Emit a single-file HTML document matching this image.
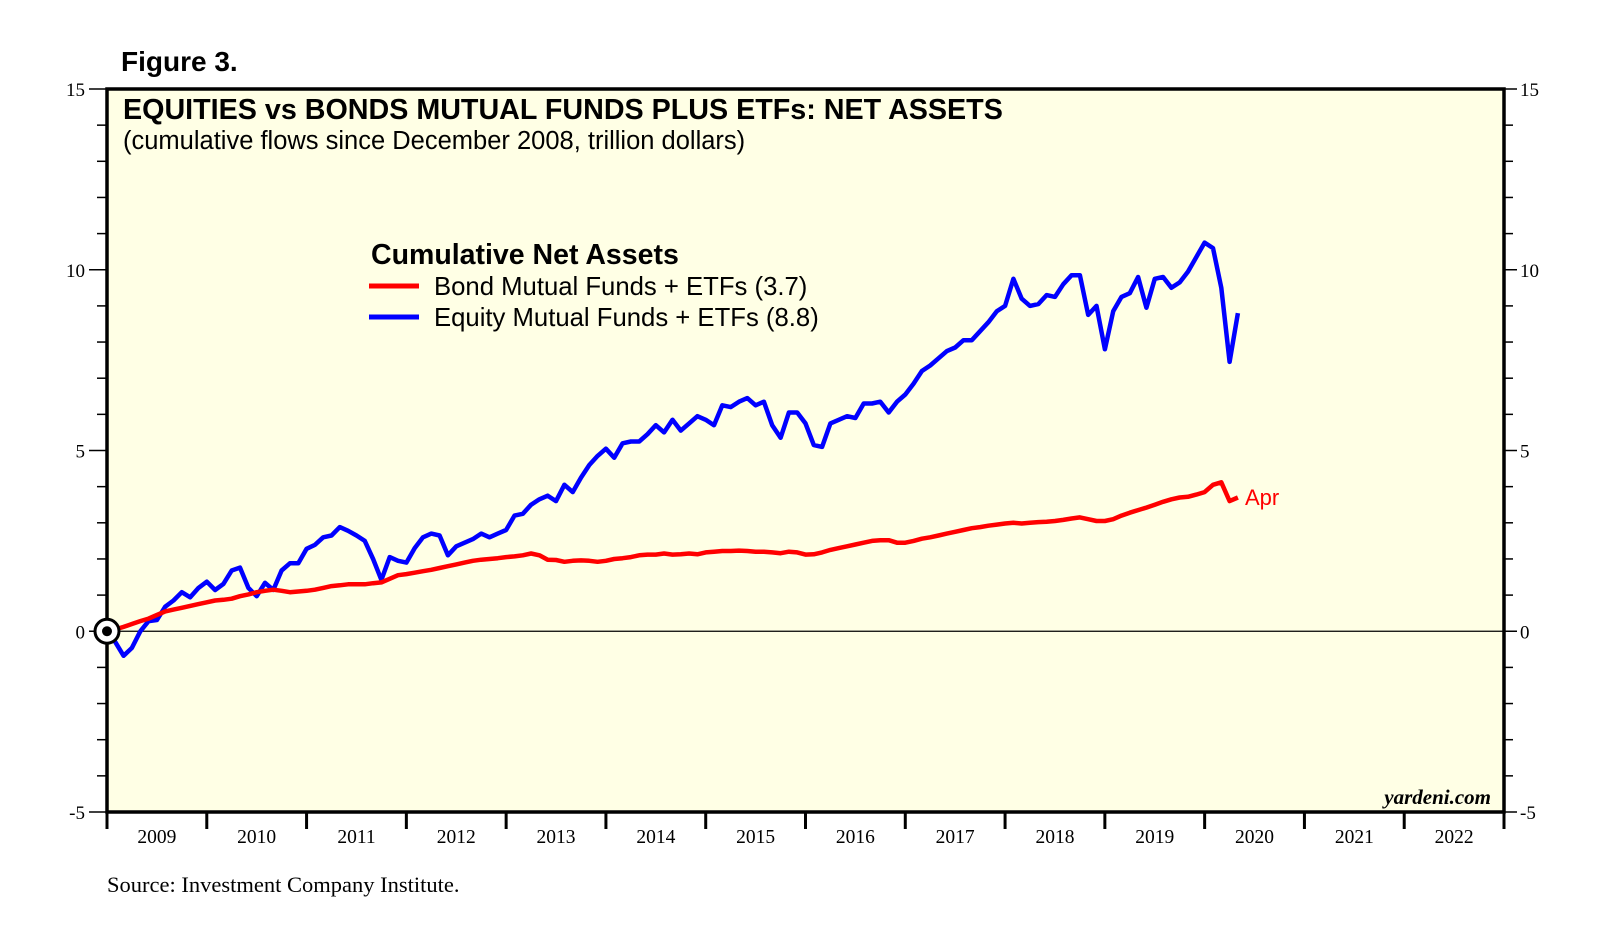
<!DOCTYPE html>
<html><head><meta charset="utf-8"><style>
html,body{margin:0;padding:0;background:#fff;}
svg{display:block;}
.s{font-family:"Liberation Sans",sans-serif;}
.r{font-family:"Liberation Serif",serif;}
</style></head><body>
<svg id="chart" width="1610" height="946" viewBox="0 0 1610 946" xmlns="http://www.w3.org/2000/svg">
<text x="121" y="71" class="s" font-size="28" font-weight="bold">Figure 3.</text>
<rect x="107" y="89" width="1397" height="723" fill="#ffffe5" stroke="#000" stroke-width="3.5"/>
<g id="axes"></g>
<g id="series"></g>
<text x="123" y="119" class="s" font-size="28.7" font-weight="bold">EQUITIES vs BONDS MUTUAL FUNDS PLUS ETFs: NET ASSETS</text>
<text x="123" y="149" class="s" font-size="25.5">(cumulative flows since December 2008, trillion dollars)</text>
<text x="371" y="264" class="s" font-size="28.5" font-weight="bold">Cumulative Net Assets</text>
<line x1="369" y1="286" x2="419" y2="286" stroke="#ff0000" stroke-width="5"/>
<text x="434" y="295" class="s" font-size="25.7">Bond Mutual Funds + ETFs (3.7)</text>
<line x1="369" y1="317" x2="419" y2="317" stroke="#0000ff" stroke-width="5"/>
<text x="434" y="326" class="s" font-size="25.7">Equity Mutual Funds + ETFs (8.8)</text>
<text x="1245" y="505" class="s" font-size="22" fill="#ff0000">Apr</text>
<text x="1491" y="804" class="r" font-size="21" font-weight="bold" font-style="italic" text-anchor="end">yardeni.com</text>
<text x="107" y="892" class="r" font-size="22.5">Source: Investment Company Institute.</text>
</svg>
<script>
const years = ["2009","2010","2011","2012","2013","2014","2015","2016","2017","2018","2019","2020","2021","2022"];
const yTicks = [15,10,5,0,-5];
const equity = [0,
-0.3,-0.68,-0.46,0.0,0.28,0.31,0.68,0.85,1.08,0.94,1.2,1.37,
1.14,1.31,1.68,1.76,1.2,0.97,1.34,1.14,1.68,1.88,1.88,2.28,
2.39,2.6,2.65,2.88,2.78,2.65,2.5,2.0,1.42,2.05,1.95,1.9,
2.3,2.6,2.7,2.65,2.1,2.35,2.45,2.55,2.7,2.6,2.7,2.8,
3.2,3.25,3.5,3.65,3.75,3.6,4.05,3.85,4.25,4.6,4.85,5.05,
4.8,5.2,5.25,5.25,5.45,5.7,5.5,5.85,5.55,5.75,5.95,5.85,
5.7,6.25,6.2,6.35,6.45,6.25,6.35,5.7,5.35,6.05,6.05,5.75,
5.15,5.1,5.75,5.85,5.95,5.9,6.3,6.3,6.35,6.05,6.35,6.55,
6.85,7.2,7.35,7.55,7.75,7.85,8.05,8.05,8.3,8.55,8.85,9.0,
9.75,9.2,9.0,9.05,9.3,9.25,9.6,9.85,9.85,8.75,9.0,7.8,
8.85,9.25,9.35,9.8,8.95,9.75,9.8,9.5,9.65,9.95,10.35,10.75,
10.6,9.5,7.45,8.8];
const bond = [0,
0.05,0.12,0.2,0.28,0.35,0.45,0.55,0.6,0.65,0.7,0.75,0.8,
0.85,0.87,0.9,0.97,1.02,1.08,1.12,1.15,1.12,1.08,1.1,1.12,
1.15,1.2,1.25,1.27,1.3,1.3,1.3,1.33,1.35,1.45,1.55,1.58,
1.62,1.66,1.7,1.75,1.8,1.85,1.9,1.95,1.98,2.0,2.02,2.05,
2.07,2.1,2.15,2.1,1.98,1.97,1.92,1.95,1.96,1.95,1.92,1.95,
2.0,2.02,2.05,2.1,2.12,2.12,2.15,2.12,2.13,2.15,2.13,2.18,
2.2,2.22,2.22,2.23,2.22,2.2,2.2,2.18,2.16,2.2,2.18,2.12,
2.13,2.18,2.25,2.3,2.35,2.4,2.45,2.5,2.52,2.52,2.45,2.45,
2.5,2.56,2.6,2.65,2.7,2.75,2.8,2.85,2.88,2.92,2.95,2.98,
3.0,2.98,3.0,3.02,3.03,3.05,3.08,3.12,3.15,3.1,3.05,3.05,
3.1,3.2,3.28,3.35,3.42,3.5,3.58,3.65,3.7,3.72,3.78,3.85,
4.05,4.12,3.6,3.7];

const NS="http://www.w3.org/2000/svg";
const L=107,R=1504,T=89,B=812,yMin=-5,yMax=15;
const months=years.length*12;
function xOf(m){return L+m*(R-L)/months;}
function yOf(v){return B-(v-yMin)*(B-T)/(yMax-yMin);}
function mk(tag,attrs,parent){const e=document.createElementNS(NS,tag);for(const k in attrs)e.setAttribute(k,attrs[k]);parent.appendChild(e);return e;}
const ax=document.getElementById('axes');
for(let v=yMin;v<=yMax;v++){
  const major=yTicks.includes(v);
  const y=yOf(v);
  const a=mk('line',{x1:major?89:97,x2:L,y1:y,y2:y,stroke:'#000','stroke-width':1.5},ax);
  
  
  const b=mk('line',{x1:R,x2:major?1517:1513,y1:y,y2:y,stroke:'#000','stroke-width':1.5},ax);
  
  
}
yTicks.forEach(v=>{
  const y=yOf(v)+7;
  const t1=mk('text',{x:85,y:y,'text-anchor':'end','font-size':19,class:'r'},ax);t1.textContent=v;
  
  
  const t2=mk('text',{x:1520,y:y,'font-size':19,class:'r'},ax);t2.textContent=v;
  
  
});
const z=mk('line',{x1:L,x2:R,y1:yOf(0),y2:yOf(0),stroke:'#000','stroke-width':1.2},ax);


for(let i=0;i<=years.length;i++){
  const x=xOf(i*12);
  const t=mk('line',{x1:x,x2:x,y1:B,y2:B+17,stroke:'#000','stroke-width':3},ax);
  
  
}
years.forEach((yr,i)=>{
  const t=mk('text',{x:xOf(i*12+6),y:843,'text-anchor':'middle','font-size':19.5,class:'r'},ax);t.textContent=yr;
  
  
});
const sg=document.getElementById('series');
function path(arr,color,name){
  const d=arr.map((v,i)=>(i?'L':'M')+xOf(i).toFixed(1)+' '+yOf(v).toFixed(1)).join(' ');
  const p=mk('path',{d:d,fill:'none',stroke:color,'stroke-width':4.5,'stroke-linejoin':'round'},sg);
  
  
}
path(equity,'#0000ff','equity-line');
path(bond,'#ff0000','bond-line');
const c=mk('circle',{cx:xOf(0),cy:yOf(0),r:12,fill:'#fff',stroke:'#000','stroke-width':3},sg);


const c2=mk('circle',{cx:xOf(0),cy:yOf(0),r:5,fill:'#000'},sg);


</script>
</body></html>
